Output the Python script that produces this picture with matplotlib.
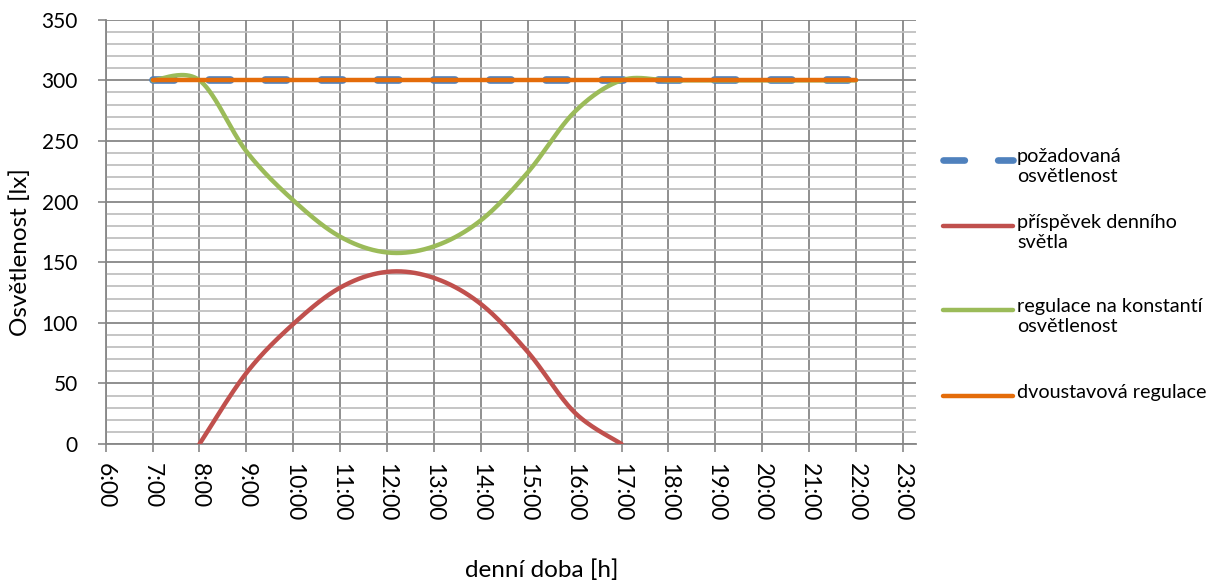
import numpy as np
import matplotlib
matplotlib.use("Agg")
import matplotlib.pyplot as plt
from matplotlib.lines import Line2D
from matplotlib.ticker import MultipleLocator, FixedLocator

# --- data (hour of day, illuminance in lx) ---
hours_full = [7, 8, 9, 10, 11, 12, 13, 14, 15, 16, 17, 18, 19, 20, 21, 22]
required = [300] * 16
hours_day = [8, 9, 10, 11, 12, 13, 14, 15, 16, 17]
daylight = [0, 58.6, 99, 129, 142, 137, 115.5, 76, 26, 0]
constant_ctrl = [300, 300, 241.4, 201, 171, 158, 163, 184.5, 224, 274, 300,
                 300, 300, 300, 300, 300]
two_state = [300] * 16

x_ticks = list(range(6, 24))
x_ticklabels = [f"{h}:00" for h in x_ticks]

series_labels = ["požadovaná\nosvětlenost", "příspěvek denního\nsvětla",
                 "regulace na konstantí\nosvětlenost", "dvoustavová regulace"]
colors = ["#4F81BD", "#C0504D", "#9BBB59", "#E46C0A"]

FONT = "Lato"
plt.rcParams["font.family"] = [FONT, "DejaVu Sans"]


def smooth(xs, ys, n=40):
    """Catmull-Rom smoothing through the given points (spreadsheet style)."""
    p = np.column_stack([xs, ys]).astype(float)
    p = np.vstack([p[0], p, p[-1]])
    out = []
    for i in range(1, len(p) - 2):
        p0, p1, p2, p3 = p[i - 1], p[i], p[i + 1], p[i + 2]
        m1 = (p2 - p0) / 2.0
        m2 = (p3 - p1) / 2.0
        t = np.linspace(0, 1, n, endpoint=(i == len(p) - 3))[:, None]
        h00 = 2 * t**3 - 3 * t**2 + 1
        h10 = t**3 - 2 * t**2 + t
        h01 = -2 * t**3 + 3 * t**2
        h11 = t**3 - t**2
        out.append(h00 * p1 + h10 * m1 + h01 * p2 + h11 * m2)
    out = np.vstack(out)
    return out[:, 0], out[:, 1]


W, H = 1223, 587
fig = plt.figure(figsize=(W / 100, H / 100), dpi=100)
left, right, top, bottom = 105.7, 916, 19.7, 444
ax = fig.add_axes([left / W, 1 - bottom / H, (right - left) / W, (bottom - top) / H])

ax.set_xlim(6, 23.28)
ax.set_ylim(0, 350)

# grid
ax.xaxis.set_major_locator(FixedLocator(x_ticks))
ax.set_xticklabels(x_ticklabels, rotation=-90, fontsize=16.5)
ax.yaxis.set_major_locator(MultipleLocator(50))
ax.yaxis.set_minor_locator(MultipleLocator(10))
ax.grid(which="major", axis="both", color="#878787", linewidth=1.3, zorder=0)
ax.grid(which="minor", axis="y", color="#C0C0C0", linewidth=1.3, zorder=0)
ax.tick_params(axis="both", which="major", direction="out", length=6,
               width=1.2, color="#878787")
ax.tick_params(axis="x", pad=8, labelsize=16.5)
ax.tick_params(axis="y", pad=14, labelsize=15)
ax.tick_params(axis="y", which="minor", length=0)
for s in ("top", "right"):
    ax.spines[s].set_visible(False)
for s in ("left", "bottom"):
    ax.spines[s].set_color("#878787")
    ax.spines[s].set_linewidth(1.3)
ax.set_axisbelow(True)

# series
blue_dash = dict(color=colors[0], linewidth=5.5, dashes=(2.8, 4.55),
                 dash_capstyle="round")
ax.plot(hours_full, required, zorder=3, **blue_dash)
sx, sy = smooth(hours_day, daylight)
ax.plot(sx, sy, color=colors[1], linewidth=3.2, solid_capstyle="round", zorder=4)
sx, sy = smooth(hours_full, constant_ctrl)
ax.plot(sx, sy, color=colors[2], linewidth=3.2, solid_capstyle="round", zorder=5)
ax.plot(hours_full, two_state, color=colors[3], linewidth=3.2,
        solid_capstyle="round", zorder=6)

# axis titles
fig.text(20 / W, 1 - 252 / H, "Osvětlenost [lx]", rotation=90, fontsize=17.5,
         ha="center", va="center")
fig.text(542 / W, 1 - 570 / H, "denní doba [h]", fontsize=17.5,
         ha="center", va="center")

# legend
legend_y = [160, 226, 310, 396]
lx0, lx1, tx = 943, 1013, 1017
for i, (lab, y) in enumerate(zip(series_labels, legend_y)):
    kw = dict(color=colors[i], linewidth=3.2, solid_capstyle="round")
    if i == 0:
        kw = dict(blue_dash, linewidth=4.8, dashes=(3.2, 5.0))
    fig.add_artist(Line2D([lx0 / W, lx1 / W], [1 - y / H, 1 - y / H],
                          transform=fig.transFigure, **kw))
    fig.text(tx / W, 1 - (y - 12) / H, lab, fontsize=14.3, ha="left", va="top",
             linespacing=1.2)

fig.savefig("out.png", dpi=100)
